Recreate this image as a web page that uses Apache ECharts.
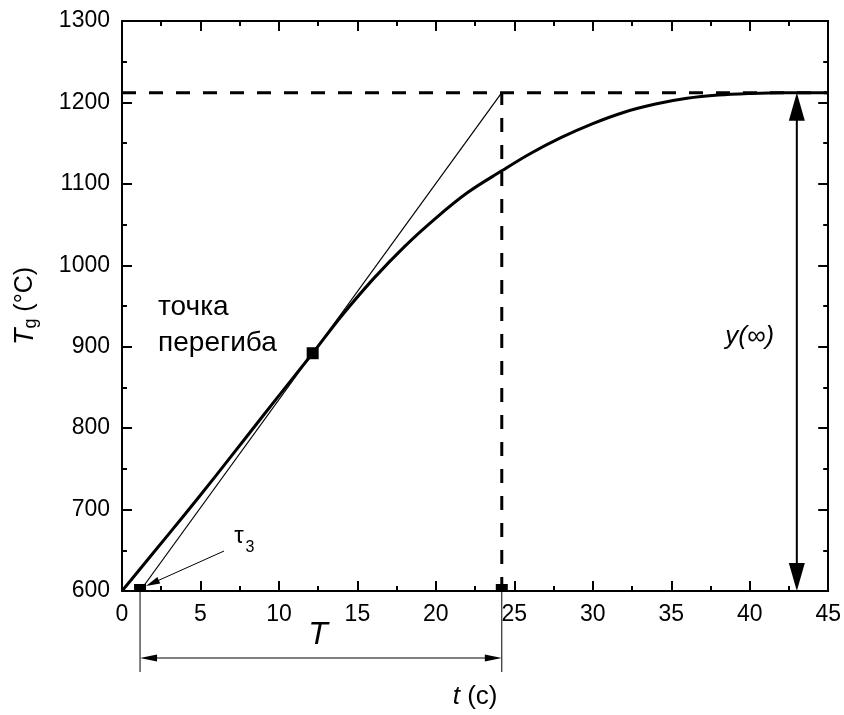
<!DOCTYPE html>
<html>
<head>
<meta charset="utf-8">
<script src="https://cdn.jsdelivr.net/npm/echarts@6/dist/echarts.min.js"></script>
<style>
html, body { margin: 0; padding: 0; background: #fff; }
#chart { width: 844px; height: 715px; }
</style>
</head>
<body>
<div id="chart"></div>
<script>
// кривая разгона: время, с и температура, °C
var timeS = [0, 2, 4, 6, 8, 10, 12.15, 14, 16, 18, 20, 22, 24.2, 26, 28, 30, 32, 34, 36, 38, 40, 42, 45];
var tempC = [600, 647, 694, 742, 791, 840, 892, 938, 983, 1023, 1058, 1089, 1116, 1137, 1157, 1174, 1188, 1198, 1205, 1209, 1211, 1212, 1212];

// характерные точки
var tauDelay = 1.15;   // τз — пересечение касательной с осью
var tEnd = 24.2;       // конец отрезка T
var inflection = [12.15, 892];
var ySteady = 1212;    // y(∞)
var arrowAt = 43;      // где стоит стрелка y(∞)

// оси
var xRange = [0, 45], xStep = 5;
var yRange = [600, 1300], yStep = 100;

var font = 'Liberation Sans, Arial, sans-serif';
var chart = echarts.init(document.getElementById('chart'));

function frameAxis(extra) {
    var a = {
        type: 'value',
        axisLine: { show: true, onZero: false, lineStyle: { color: '#000', width: 2 } },
        axisTick: { show: true, inside: true, length: 10, lineStyle: { color: '#000', width: 2 } },
        minorTick: { show: true, splitNumber: 2, length: 5, lineStyle: { color: '#000', width: 2 } },
        splitLine: { show: false },
        minorSplitLine: { show: false },
        axisLabel: { show: false }
    };
    for (var k in extra) a[k] = extra[k];
    return a;
}

var labelStyle = {
    show: true, color: '#000', fontSize: 23, fontFamily: font, margin: 12,
    formatter: function(v) { return String(v); }
};

var option = {
    animation: false,
    backgroundColor: '#fff',
    grid: { left: 122, right: 15, top: 21, bottom: 124 },
    xAxis: [
        frameAxis({
            position: 'bottom', min: xRange[0], max: xRange[1], interval: xStep,
            axisLabel: labelStyle,
            name: '{i|t} (c)', nameLocation: 'middle', nameGap: 93,
            nameTextStyle: {
                color: '#000', fontSize: 26, fontFamily: font,
                rich: { i: { fontStyle: 'italic', fontSize: 26, fontFamily: font, color: '#000' } }
            }
        }),
        frameAxis({ position: 'top', min: xRange[0], max: xRange[1], interval: xStep })
    ],
    yAxis: [
        frameAxis({
            position: 'left', min: yRange[0], max: yRange[1], interval: yStep,
            axisLabel: labelStyle,
            name: '{i|T}{s|g} (°C)', nameLocation: 'middle', nameGap: 82,
            nameTextStyle: {
                color: '#000', fontSize: 25, fontFamily: font,
                rich: {
                    i: { fontStyle: 'italic', fontSize: 27, fontFamily: font, color: '#000' },
                    s: { fontSize: 18, fontFamily: font, color: '#000', padding: [12, 0, 0, 0] }
                }
            }
        }),
        frameAxis({ position: 'right', min: yRange[0], max: yRange[1], interval: yStep })
    ],
    series: [
        {
            type: 'line',
            data: timeS.map(function(t, i) { return [t, tempC[i]]; }),
            smooth: 0.35,
            showSymbol: false,
            lineStyle: { color: '#000', width: 3 },
            z: 5
        },
        {
            // касательная в точке перегиба
            type: 'line',
            data: [[tauDelay, yRange[0]], [tEnd, ySteady]],
            showSymbol: false,
            lineStyle: { color: '#000', width: 1.2 }
        },
        {
            type: 'line',
            data: [[xRange[0], ySteady], [xRange[1], ySteady]],
            showSymbol: false,
            lineStyle: { color: '#000', width: 3, type: [14, 13] }
        },
        {
            type: 'line',
            data: [[tEnd, yRange[0]], [tEnd, ySteady]],
            showSymbol: false,
            lineStyle: { color: '#000', width: 3, type: [14, 13] }
        },
        {
            type: 'scatter',
            data: [inflection],
            symbol: 'rect',
            symbolSize: 12,
            itemStyle: { color: '#000', opacity: 1 },
            z: 6
        },
        {
            type: 'scatter',
            data: [[tauDelay, yRange[0]], [tEnd, yRange[0]]],
            symbol: 'rect',
            symbolSize: [12, 7],
            symbolOffset: [0, -3.5],
            itemStyle: { color: '#000', opacity: 1 },
            z: 6
        }
    ]
};

chart.setOption(option);

// подписи и стрелки поверх графика
function px(t, v) { return chart.convertToPixel({ gridIndex: 0 }, [t, v]); }

function line(a, b, w) {
    return { type: 'line', shape: { x1: a[0], y1: a[1], x2: b[0], y2: b[1] },
             style: { stroke: '#000', lineWidth: w }, z: 10 };
}
function head(tip, from, len, half) {
    var dx = tip[0] - from[0], dy = tip[1] - from[1];
    var d = Math.sqrt(dx * dx + dy * dy);
    dx /= d; dy /= d;
    var bx = tip[0] - dx * len, by = tip[1] - dy * len;
    return { type: 'polygon', shape: { points: [tip, [bx - dy * half, by + dx * half], [bx + dy * half, by - dx * half]] },
             style: { fill: '#000' }, z: 10 };
}
function text(s, x, y, size, extra) {
    var st = { text: s, x: x, y: y, fill: '#000', fontSize: size, fontFamily: font,
               align: 'center', verticalAlign: 'middle' };
    for (var k in extra) st[k] = extra[k];
    return { type: 'text', style: st, z: 10 };
}

var g = [];
var p0 = px(tauDelay, yRange[0]);
var p1 = px(tEnd, yRange[0]);
var yb = p0[1];

// отрезок T под осью
g.push(line([p0[0], yb + 1], [p0[0], yb + 81], 1));
g.push(line([p1[0], yb + 1], [p1[0], yb + 81], 1));
var ya = yb + 67;
g.push(line([p0[0] + 10, ya], [p1[0] - 10, ya], 1));
g.push(head([p0[0], ya], [p1[0], ya], 17, 3.5));
g.push(head([p1[0], ya], [p0[0], ya], 17, 3.5));
g.push(text('T', (p0[0] + p1[0]) / 2 - 3, yb + 44, 32, { fontStyle: 'italic' }));

// стрелка y(∞)
var ta = px(arrowAt, ySteady), ba = px(arrowAt, yRange[0]);
g.push(line([ta[0], ta[1] + 20], [ba[0], ba[1] - 20], 2));
g.push(head(ta, ba, 28, 8));
g.push(head(ba, ta, 28, 8));
var yl = px(40, 912);
g.push(text('y(∞)', yl[0], yl[1], 26, { fontStyle: 'italic' }));

// τз
var tip = [p0[0] + 6, yb - 5];
var tail = [tip[0] + 78, tip[1] - 35];
g.push(line(tail, [tip[0] + 10, tip[1] - 4.5], 1));
g.push(head(tip, tail, 14, 3.5));
g.push(text('τ', tail[0] + 15, tail[1] - 15, 24));
g.push(text('3', tail[0] + 26, tail[1] - 3, 16));

// точка перегиба
var tl = px(2.3, 926);
g.push(text('точка\nперегиба', tl[0], tl[1], 28, { align: 'left', lineHeight: 36 }));

chart.setOption({ graphic: g });

window.addEventListener('resize', function() {
    chart.resize();
});
</script>
</body>
</html>
